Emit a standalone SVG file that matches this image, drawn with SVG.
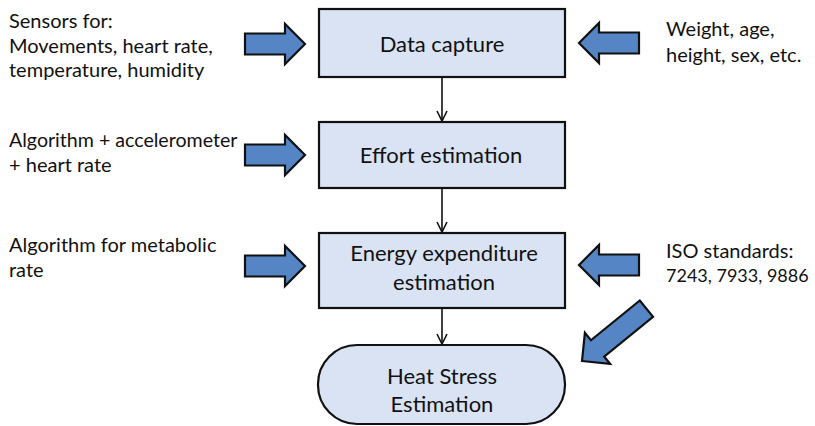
<svg xmlns="http://www.w3.org/2000/svg" width="815" height="426" viewBox="0 0 815 426">
  <defs>
    <style>
      .box { fill: #d9e3f3; stroke: #111; stroke-width: 2.2; }
      .blk { fill: #5585c5; stroke: #111; stroke-width: 2.2; stroke-linejoin: miter; }
      .lbl { font-family: Lato, "Open Sans", sans-serif; font-size: 20px; fill: #111; }
      .big { font-size: 22px; text-anchor: middle; }
      .conn { stroke: #111; stroke-width: 1.6; fill: none; }
    </style>
    <marker id="vee" viewBox="0 0 12 12" refX="11" refY="6" markerWidth="12" markerHeight="12" markerUnits="userSpaceOnUse" orient="auto">
      <path d="M1,1 L11,6 L1,11" fill="none" stroke="#111" stroke-width="1.6"/>
    </marker>
    <!-- block arrow, tip at origin, pointing right -->
    <path id="barrow" d="M0,0 L-20,-20 L-20,-10.5 L-60,-10.5 L-60,10.5 L-20,10.5 L-20,20 Z"/>
  </defs>

  <rect width="815" height="426" fill="#fff"/>

  <g id="connectors">
    <line class="conn" x1="442" y1="77" x2="442" y2="121" marker-end="url(#vee)"/>
    <line class="conn" x1="442" y1="188" x2="442" y2="232" marker-end="url(#vee)"/>
    <line class="conn" x1="442" y1="308" x2="442" y2="344" marker-end="url(#vee)"/>
  </g>

  <g id="data-capture">
    <rect class="box" x="319" y="9" width="246" height="68"/>
    <text class="lbl big" x="442" y="52">Data capture</text>
  </g>

  <g id="effort-estimation">
    <rect class="box" x="319" y="122" width="246" height="66"/>
    <text class="lbl big" x="441" y="163">Effort estimation</text>
  </g>

  <g id="energy-expenditure">
    <rect class="box" x="319" y="233" width="246" height="75"/>
    <text class="lbl big" x="444" y="261">Energy expenditure</text>
    <text class="lbl big" x="444" y="290">estimation</text>
  </g>

  <g id="heat-stress">
    <rect class="box" x="318" y="345" width="247" height="79" rx="39" ry="39"/>
    <text class="lbl big" x="442" y="384">Heat Stress</text>
    <text class="lbl big" x="442" y="412">Estimation</text>
  </g>

  <g id="sensors">
    <text class="lbl" x="9" y="28">Sensors for:</text>
    <text class="lbl" x="9" y="53">Movements, heart rate,</text>
    <text class="lbl" x="9" y="77">temperature, humidity</text>
    <use href="#barrow" class="blk" transform="translate(305,44)"/>
  </g>

  <g id="algorithm-accel">
    <text class="lbl" x="9" y="147" style="font-size:19.6px">Algorithm + accelerometer</text>
    <text class="lbl" x="9" y="172">+ heart rate</text>
    <use href="#barrow" class="blk" transform="translate(305,155)"/>
  </g>

  <g id="algorithm-metabolic">
    <text class="lbl" x="9" y="252">Algorithm for metabolic</text>
    <text class="lbl" x="9" y="277">rate</text>
    <use href="#barrow" class="blk" transform="translate(305,266)"/>
  </g>

  <g id="personal-data">
    <use href="#barrow" class="blk" transform="translate(579,43) scale(-1,1)"/>
    <text class="lbl" x="666" y="36">Weight, age,</text>
    <text class="lbl" x="666" y="62">height, sex, etc.</text>
  </g>

  <g id="iso-standards">
    <use href="#barrow" class="blk" transform="translate(579,265) scale(-1,1)"/>
    <text class="lbl" x="666" y="258">ISO standards:</text>
    <text class="lbl" x="666" y="282" style="font-size:18px">7243, 7933, 9886</text>
    <path class="blk" transform="translate(582,361) rotate(140.9)" d="M0,0 L-20,-20 L-20,-10.5 L-83,-10.5 L-83,10.5 L-20,10.5 L-20,20 Z"/>
  </g>
</svg>
